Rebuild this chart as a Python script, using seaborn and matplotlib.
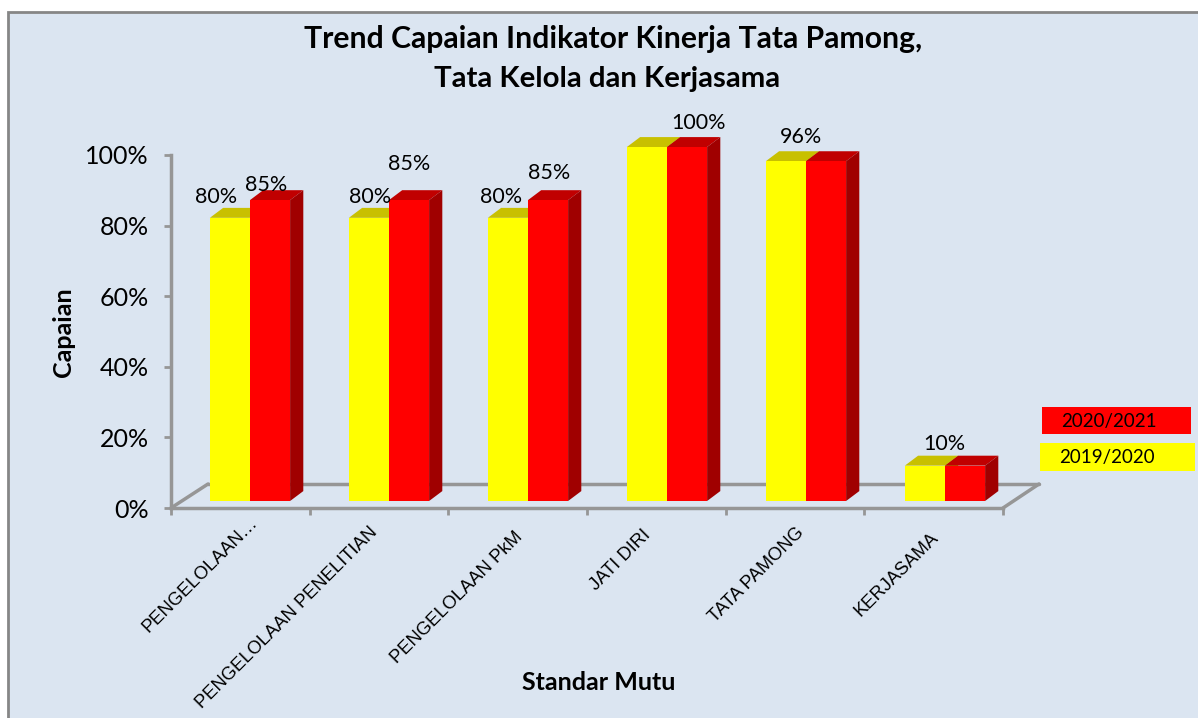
import matplotlib
matplotlib.use("Agg")
import matplotlib.pyplot as plt
import pandas as pd
import seaborn as sns
from matplotlib.lines import Line2D
from matplotlib.patches import Polygon, Rectangle
from matplotlib.transforms import ScaledTranslation

categories = ["PENGELOLAAN…", "PENGELOLAAN PENELITIAN", "PENGELOLAAN PkM", "JATI DIRI", "TATA PAMONG", "KERJASAMA"]
values_2019 = [80, 80, 80, 100, 96, 10]
values_2020 = [85, 85, 85, 100, 96, 10]
labels_2019 = ["80%", "80%", "80%", "", "", ""]
labels_2020 = ["85%", "85%", "85%", "100%", "96%", "10%"]
y_ticks = [0, 20, 40, 60, 80, 100]

W, H = 1198, 718
BG = "#DBE5F1"
GREY = "#969696"
FONT = "Lato"

# helpers, everything below is laid out in reference pixels
def fx(px):
    return px / W

def fy(py):
    return 1 - py / H

def box(x0, y_top, x1, y_bot):
    return [fx(x0), fy(y_bot), fx(x1) - fx(x0), fy(y_top) - fy(y_bot)]

df = pd.DataFrame({
    "kategori": categories * 2,
    "tahun": ["2019/2020"] * 6 + ["2020/2021"] * 6,
    "capaian": values_2019 + values_2020,
})

sns.set_theme(style="white")
fig = plt.figure(figsize=(W / 100, H / 100), dpi=100, facecolor="white")

# panel behind the chart, right and bottom edges run off the picture
fig.add_artist(Rectangle((fx(8), fy(760)), fx(1260), fy(12) - fy(760), transform=fig.transFigure,
                         facecolor=BG, edgecolor="#868686", linewidth=2, zorder=-5))

# axis plane, the front of the floor
ax_axis = fig.add_axes(box(171, 155, 1003, 508))
ax_axis.patch.set_alpha(0)
ax_axis.set_xlim(0, 6)
ax_axis.set_ylim(0, 100)
ax_axis.set_yticks(y_ticks)
ax_axis.set_yticklabels([f"{v}%" for v in y_ticks], fontsize=18, family=FONT, color="black")
ax_axis.set_xticks(range(7))
ax_axis.set_xticklabels([])
ax_axis.tick_params(axis="both", length=5, width=2, color=GREY, left=True, bottom=True, pad=11)
sns.despine(ax=ax_axis)
for side in ["left", "bottom"]:
    ax_axis.spines[side].set_color(GREY)
    ax_axis.spines[side].set_linewidth(2.5)

# floor in depth
floor = [[(171, 508), (208, 484)], [(208, 484), (1039, 484)], [(1039, 484), (1003, 508)]]
for (x0, y0), (x1, y1) in floor:
    fig.add_artist(Line2D([fx(x0), fx(x1)], [fy(y0), fy(y1)], color=GREY, linewidth=2.5, zorder=-1))

# bar plane, sits a little behind the axis plane
ax = fig.add_axes(box(180.5, 147, 1014.5, 501))
ax.patch.set_alpha(0)
sns.barplot(data=df, x="kategori", y="capaian", hue="tahun", palette=["#FFFF00", "#FF0000"],
            width=0.577, dodge=True, legend=False, saturation=1, ax=ax, linewidth=0, zorder=5)
ax.set_xlim(-0.5, 5.5)
ax.set_ylim(0, 100)
ax.set_yticks([])
ax.set_xlabel("")
ax.set_ylabel("")
sns.despine(ax=ax, left=True, bottom=True)
ax.tick_params(axis="x", length=0, pad=16)
ax.set_xticks(range(6))
ax.set_xticklabels(categories, rotation=45, ha="right", rotation_mode="anchor",
                   fontsize=13.2, family="Liberation Sans", color="black")

# the original nudges its slanted labels a bit differently each, pixels
label_nudge = [(-1, 9), (-20, -1), (-14, -5), (-25, -3), (-10, -1), (-15, -6)]
for lab, (nx, ny) in zip(ax.get_xticklabels(), label_nudge):
    lab.set_transform(lab.get_transform() + ScaledTranslation(nx / 100, ny / 100, fig.dpi_scale_trans))

# 3D faces from the drawn bars
DX, DY = 0.095, 2.8
shades = {0: ("#C8C000", "#A8A000"), 1: ("#C00000", "#A00000")}
bars = ax.containers
for s, cont in enumerate(bars):
    top_col, side_col = shades[s]
    for b in cont:
        x0, x1, h = b.get_x(), b.get_x() + b.get_width(), b.get_height()
        ax.add_patch(Polygon([(x0, h), (x0 + DX, h + DY), (x1 + DX, h + DY), (x1, h)],
                             facecolor=top_col, edgecolor="none", zorder=3 + s, clip_on=False))
        ax.add_patch(Polygon([(x1, 0), (x1 + DX, DY), (x1 + DX, h + DY), (x1, h)],
                             facecolor=side_col, edgecolor="none", zorder=3 + s, clip_on=False))

# data labels, offsets in points because they were placed by hand in the original
offsets_2019 = [(-10, 8), (1, 8), (-5, 8), (0, 0), (0, 0), (0, 0)]
offsets_2020 = [(-2.5, 4), (0, 19), (1, 12), (8, 10), (-18, 10), (-15, 8)]
for cont, labs, offs in zip(bars, [labels_2019, labels_2020], [offsets_2019, offsets_2020]):
    for b, lab, off in zip(cont, labs, offs):
        if lab:
            ax.annotate(lab, (b.get_x() + b.get_width() / 2, b.get_height()), xytext=off,
                        textcoords="offset points", ha="center", va="bottom", fontsize=15.5,
                        family=FONT, color="black", zorder=8, annotation_clip=False)

# title and axis titles
fig.text(fx(613), fy(39), "Trend Capaian Indikator Kinerja Tata Pamong,", ha="center", va="center",
         fontsize=21.7, fontweight="bold", family=FONT, color="black")
fig.text(fx(607), fy(79), "Tata Kelola dan Kerjasama", ha="center", va="center",
         fontsize=21.2, fontweight="bold", family=FONT, color="black")
fig.text(fx(64), fy(332), "Capaian", rotation=90, ha="center", va="center",
         fontsize=18, fontweight="bold", family=FONT, color="black")
fig.text(fx(599), fy(683), "Standar Mutu", ha="center", va="center",
         fontsize=18, fontweight="bold", family=FONT, color="black")

# hand drawn legend boxes of the original
fig.add_artist(Rectangle((fx(1042), fy(434)), fx(149), fy(407) - fy(434), transform=fig.transFigure,
                         facecolor="#FF0000", edgecolor="none"))
fig.add_artist(Rectangle((fx(1040), fy(471)), fx(155), fy(443) - fy(471), transform=fig.transFigure,
                         facecolor="#FFFF00", edgecolor="none"))
fig.text(fx(1109), fy(421), "2020/2021", ha="center", va="center", fontsize=13.5, family=FONT, color="black")
fig.text(fx(1107), fy(458), "2019/2020", ha="center", va="center", fontsize=13.5, family=FONT, color="black")

fig.savefig("out.png", dpi=100, facecolor=fig.get_facecolor())
